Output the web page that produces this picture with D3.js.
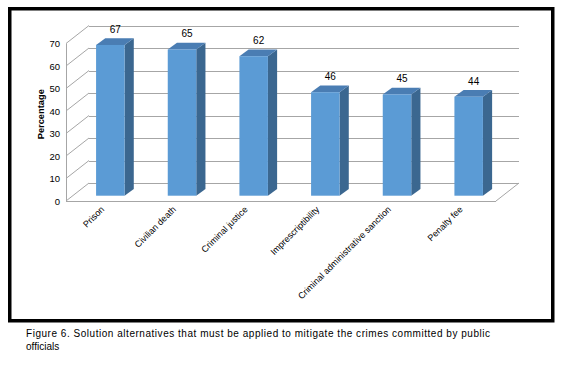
<!DOCTYPE html>
<html>
<head>
<meta charset="utf-8">
<script src="https://cdn.jsdelivr.net/npm/d3@7"></script>
<style>
  html, body { margin: 0; padding: 0; background: #fff; }
  svg { display: block; }
  text { font-family: "Liberation Sans", Arial, sans-serif; fill: #000; }
</style>
</head>
<body>
<svg id="chart" width="563" height="371"></svg>
<script>
const categories = ["Prison", "Civilian death", "Criminal justice", "Imprescriptibility", "Criminal administrative sanction", "Penalty fee"];
const values = [67, 65, 62, 46, 45, 44];
const yTicks = [0, 10, 20, 30, 40, 50, 60, 70];
const yTitle = "Percentage";
const captionLines = ["Figure 6. Solution alternatives that must be applied to mitigate the crimes committed by public", "officials"];

const svg = d3.select("#chart");

// frame
svg.append("rect")
  .attr("x", 9.75).attr("y", 8.75).attr("width", 543).attr("height", 312)
  .attr("fill", "#fff").attr("stroke", "#000").attr("stroke-width", 3.5);

// 3D geometry
const depthX = 23, depthY = -18;
const x = d3.scaleBand().domain(categories).range([66, 496]);
const y = d3.scaleLinear().domain([0, 70]).range([201, 43.5]);

const grid = svg.append("g").attr("stroke", "#a6a6a6").attr("stroke-width", 1).attr("fill", "none");
// back wall gridlines
yTicks.forEach(t => {
  grid.append("line")
    .attr("x1", x.range()[0] + depthX).attr("x2", x.range()[1] + depthX)
    .attr("y1", Math.round(y(t) + depthY) + 0.5).attr("y2", Math.round(y(t) + depthY) + 0.5);
  // left wall diagonals
  grid.append("line")
    .attr("x1", x.range()[0]).attr("y1", y(t))
    .attr("x2", x.range()[0] + depthX).attr("y2", y(t) + depthY);
});
// front axis line
grid.append("line")
  .attr("x1", x.range()[0] + 0.5).attr("x2", x.range()[0] + 0.5)
  .attr("y1", y(0)).attr("y2", y(70));
// floor front and right edges
grid.append("line")
  .attr("x1", x.range()[0]).attr("x2", x.range()[1])
  .attr("y1", y(0) + 0.5).attr("y2", y(0) + 0.5);
grid.append("line")
  .attr("x1", x.range()[1]).attr("y1", y(0))
  .attr("x2", x.range()[1] + depthX).attr("y2", y(0) + depthY);

// y tick labels
svg.append("g").selectAll("text").data(yTicks).join("text")
  .attr("x", 60).attr("y", d => y(d) + 3.5)
  .attr("text-anchor", "end").attr("font-size", "9.5px")
  .text(d => d);

// y title
svg.append("text")
  .attr("transform", `translate(44,${y(35) - 8}) rotate(-90)`)
  .attr("text-anchor", "middle").attr("font-size", "9.3px").attr("font-weight", "bold")
  .text(yTitle);

// bars
const barW = 28.5, barShift = 8.5, barLift = 5.3, sideDX = 9.2, sideDY = -6.8;
const bars = svg.append("g");
categories.forEach((c, i) => {
  const v = values[i];
  const cx = x(c) + x.bandwidth() / 2 + barShift;
  const x0 = cx - barW / 2, x1 = cx + barW / 2;
  const yb = y(0) - barLift, yt = y(v) - barLift;
  // side face
  bars.append("polygon")
    .attr("points", [[x1, yt], [x1 + sideDX, yt + sideDY], [x1 + sideDX, yb + sideDY], [x1, yb]].map(p => p.join(",")).join(" "))
    .attr("fill", "#3b6790");
  // top face
  bars.append("polygon")
    .attr("points", [[x0, yt], [x0 + sideDX, yt + sideDY], [x1 + sideDX, yt + sideDY], [x1, yt]].map(p => p.join(",")).join(" "))
    .attr("fill", "#4a7db3");
  // front face
  bars.append("rect")
    .attr("x", x0).attr("y", yt).attr("width", barW).attr("height", yb - yt)
    .attr("fill", "#5b9bd5");
  // value label
  bars.append("text")
    .attr("x", cx + 5).attr("y", yt - 12)
    .attr("text-anchor", "middle").attr("font-size", "10px")
    .text(v);
});

// category labels
svg.append("g").selectAll("text").data(categories).join("text")
  .attr("transform", d => `translate(${x(d) + x.bandwidth() / 2 + 3},${y(0) + 9}) rotate(-45)`)
  .attr("text-anchor", "end").attr("font-size", "9px")
  .text(d => d);

// caption
svg.append("g").selectAll("text").data(captionLines).join("text")
  .attr("x", 26).attr("y", (d, i) => 337 + i * 12.7)
  .attr("font-size", "10px")
  .attr("textLength", (d, i) => i === 0 ? 464 : null)
  .attr("lengthAdjust", "spacing")
  .text(d => d);
</script>
</body>
</html>
